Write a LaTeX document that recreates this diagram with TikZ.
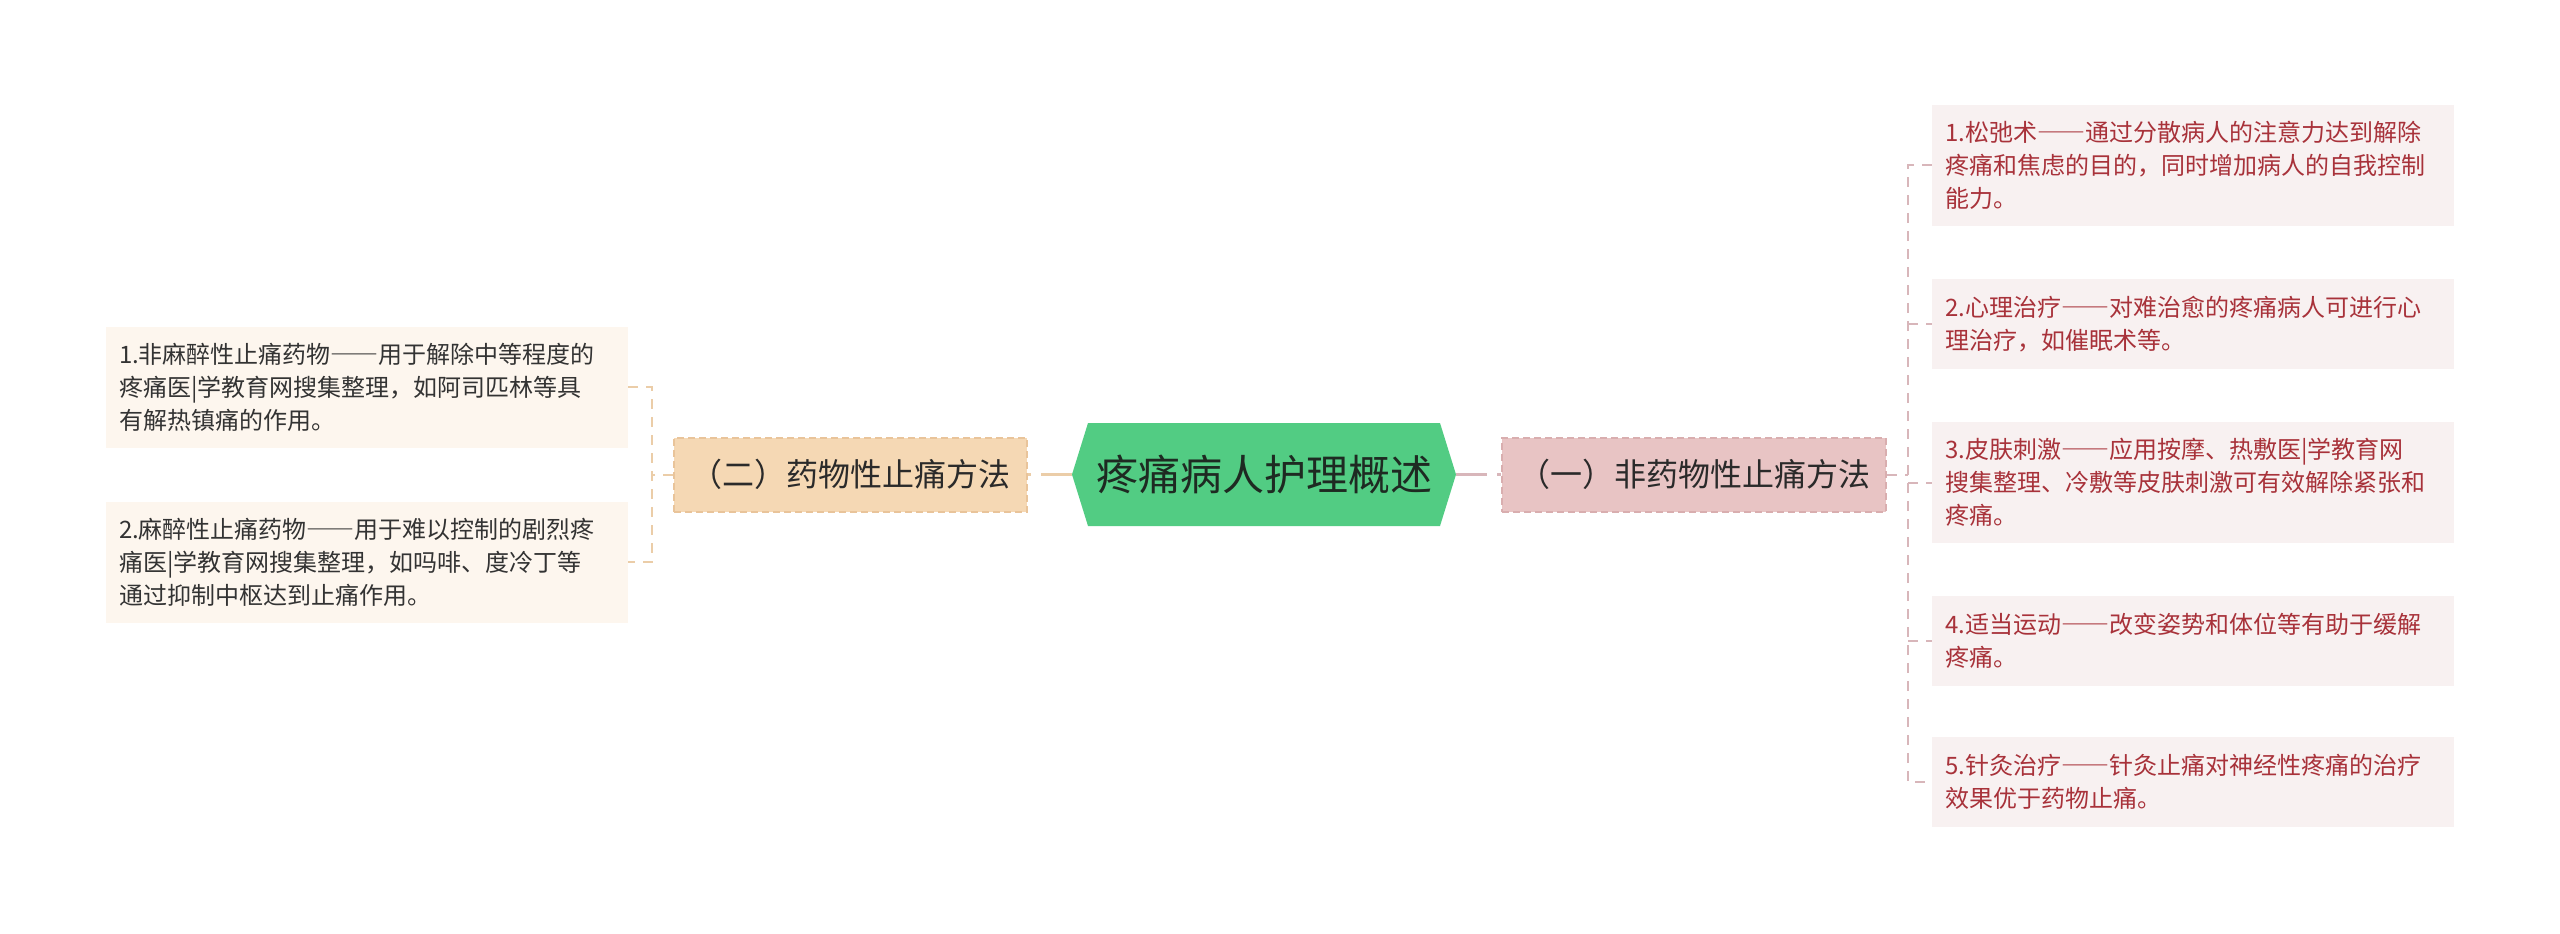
\documentclass[tikz,border=0pt]{standalone}
\usepackage{fontspec}
\setmainfont{Noto Sans CJK SC}
\newfontfamily\fwfont[RawFeature=+fwid]{Noto Sans CJK SC}
\newcommand{\twodash}{{\fwfont ——}}
\definecolor{hexgreen}{HTML}{52CC83}
\definecolor{hextext}{HTML}{1E2A22}
\definecolor{brRfill}{HTML}{E8C4C4}
\definecolor{brRdraw}{HTML}{D9AEAF}
\definecolor{brLfill}{HTML}{F5D8B4}
\definecolor{brLdraw}{HTML}{E9C49A}
\definecolor{brtext}{HTML}{2A2A2A}
\definecolor{leafRfill}{HTML}{F8F1F1}
\definecolor{leafRtext}{HTML}{A8323A}
\definecolor{leafLfill}{HTML}{FDF6EE}
\definecolor{leafLtext}{HTML}{333333}
\definecolor{linkRcol}{HTML}{D8B6BA}
\definecolor{linkLcol}{HTML}{EBCDA8}
\begin{document}
\begin{tikzpicture}[x=1pt,y=-1pt,
  hexnode/.style={fill=white, minimum width=384pt, minimum height=103pt, inner sep=0pt,
    text=hextext, font=\fontsize{42pt}{50pt}\selectfont,
    path picture={\fill[hexgreen] (path picture bounding box.west)
      -- ([xshift=16pt]path picture bounding box.north west)
      -- ([xshift=-16pt]path picture bounding box.north east)
      -- (path picture bounding box.east)
      -- ([xshift=-16pt]path picture bounding box.south east)
      -- ([xshift=16pt]path picture bounding box.south west) -- cycle;}},
  branchbox/.style={line width=2pt, dash pattern=on 7pt off 4pt, inner sep=0pt,
    minimum height=74pt, text=brtext, font=\fontsize{32pt}{38pt}\selectfont},
  branchR/.style={branchbox, fill=brRfill, draw=brRdraw, minimum width=384pt},
  branchL/.style={branchbox, fill=brLfill, draw=brLdraw, minimum width=353pt},
  leafbox/.style={text width=496pt, inner xsep=13pt, inner ysep=0pt, align=left,
    font=\fontsize{24pt}{33pt}\selectfont},
  leafR/.style={leafbox, fill=leafRfill, text=leafRtext},
  leafL/.style={leafbox, fill=leafLfill, text=leafLtext},
  tall/.style={minimum height=121pt},
  short/.style={minimum height=90pt},
  mainlink/.style={line width=2.5pt, dash pattern=on 31pt off 10pt},
  sublink/.style={line width=2pt, dash pattern=on 10pt off 8pt},
]
\fill[white] (0,0) rectangle (2560,934);
\useasboundingbox (0,0) rectangle (2560,934);

\node[hexnode] (c) at (1264,474.5) {疼痛病人护理概述};
\node[branchR] (r) at (1694,474.5) {（一）非药物性止痛方法};
\node[branchL] (l) at (850.5,474.5) {（二）药物性止痛方法};

\node[leafR, tall] (r1) at (2193,165) {1.松弛术\twodash 通过分散病人的注意力达到解除\\疼痛和焦虑的目的，同时增加病人的自我控制\\能力。};
\node[leafR, short] (r2) at (2193,324) {2.心理治疗\twodash 对难治愈的疼痛病人可进行心\\理治疗，如催眠术等。};
\node[leafR, tall] (r3) at (2193,482.5) {3.皮肤刺激\twodash 应用按摩、热敷医|学教育网\\搜集整理、冷敷等皮肤刺激可有效解除紧张和\\疼痛。};
\node[leafR, short] (r4) at (2193,641) {4.适当运动\twodash 改变姿势和体位等有助于缓解\\疼痛。};
\node[leafR, short] (r5) at (2193,782) {5.针灸治疗\twodash 针灸止痛对神经性疼痛的治疗\\效果优于药物止痛。};

\node[leafL, tall] (l1) at (367,387) {1.非麻醉性止痛药物\twodash 用于解除中等程度的\\疼痛医|学教育网搜集整理，如阿司匹林等具\\有解热镇痛的作用。};
\node[leafL, tall] (l2) at (367,562) {2.麻醉性止痛药物\twodash 用于难以控制的剧烈疼\\痛医|学教育网搜集整理，如吗啡、度冷丁等\\通过抑制中枢达到止痛作用。};

\draw[mainlink, draw=linkRcol] (c.east) -- (r.west);
\draw[mainlink, draw=linkLcol] (c.west) -- (l.east);

\coordinate (rj) at (1908,474.5);
\draw[sublink, draw=linkRcol] (r.east) -- (rj);
\draw[sublink, draw=linkRcol] (r1.west) -- (rj |- r1.west) -- (rj |- r5.west) -- (r5.west);
\draw[sublink, draw=linkRcol] (rj |- r2.west) -- (r2.west);
\draw[sublink, draw=linkRcol] (rj |- r3.west) -- (r3.west);
\draw[sublink, draw=linkRcol] (rj |- r4.west) -- (r4.west);

\coordinate (lj) at (652,474.5);
\draw[sublink, draw=linkLcol] (l.west) -- (lj);
\draw[sublink, draw=linkLcol] (l1.east) -- (lj |- l1.east) -- (lj |- l2.east) -- (l2.east);
\end{tikzpicture}
\end{document}
